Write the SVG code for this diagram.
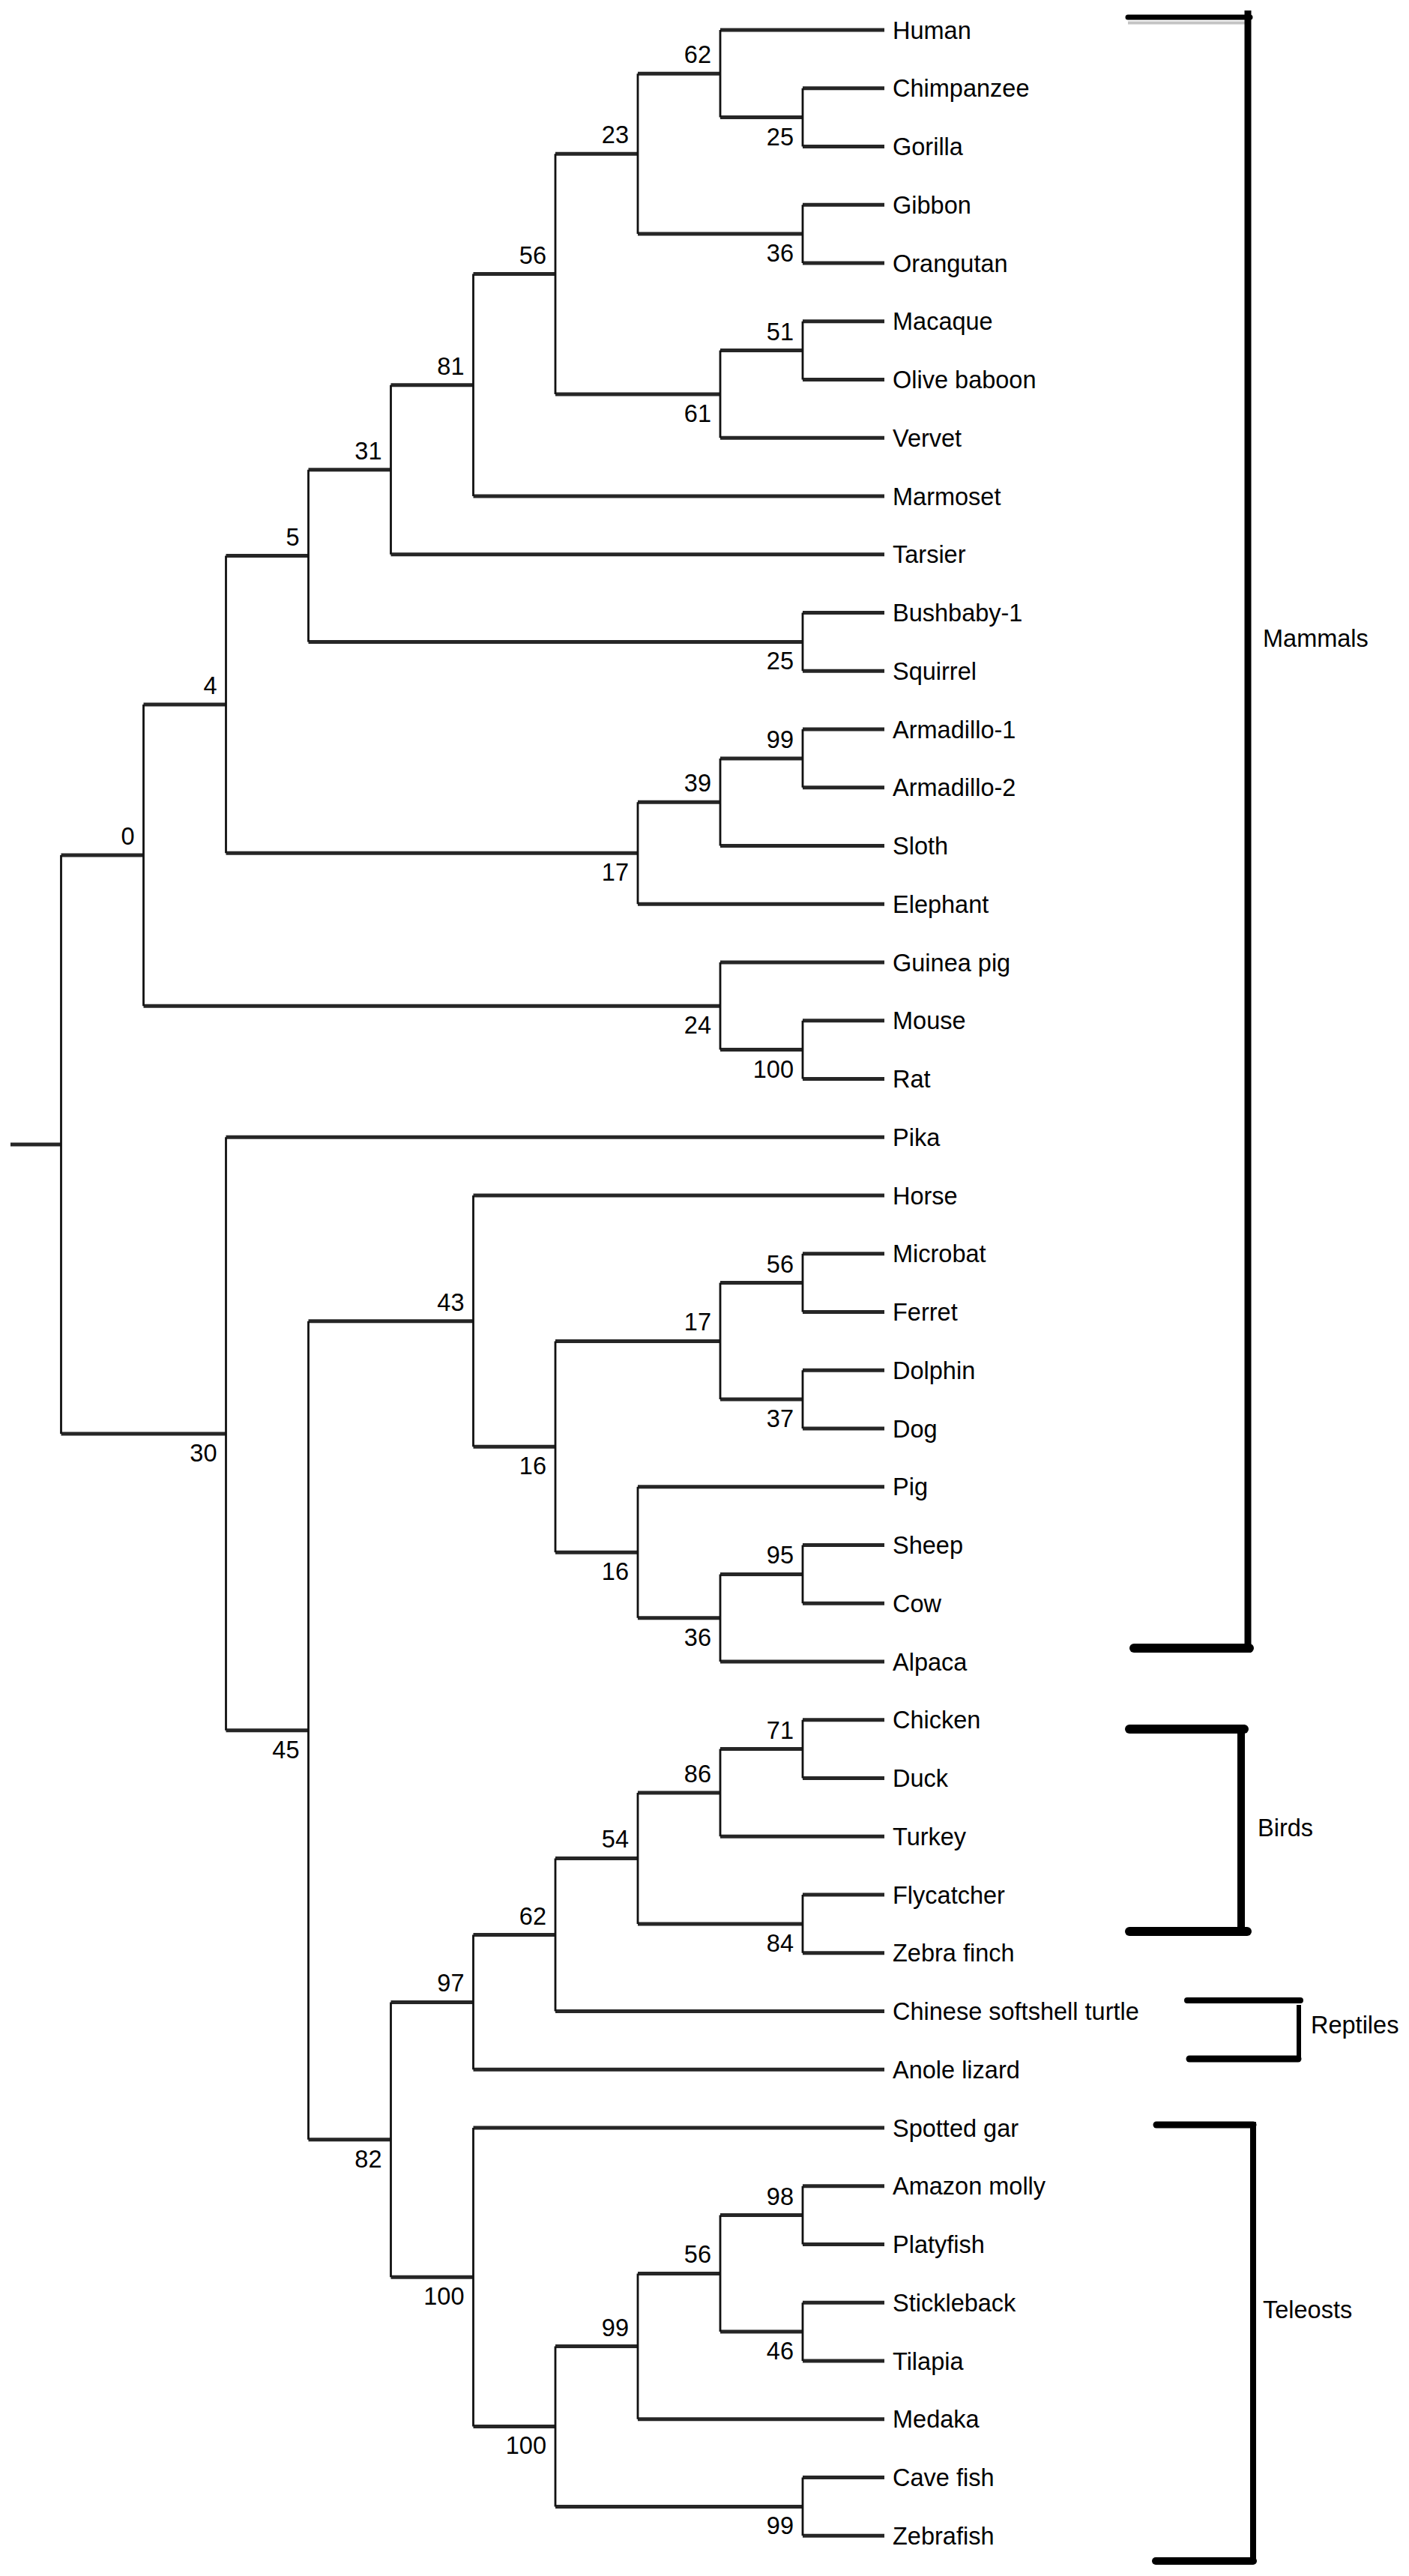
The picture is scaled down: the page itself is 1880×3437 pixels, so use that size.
<svg xmlns="http://www.w3.org/2000/svg" width="1880" height="3437" viewBox="0 0 1880 3437">
<style>
text{font-family:"Liberation Sans",Arial,sans-serif;font-size:32.5px;fill:#000}
.bs{text-anchor:end}
.h{fill:none;stroke:#262626;stroke-width:5}
.v{fill:none;stroke:#111;stroke-width:2.8}
.br{fill:none;stroke:#000;stroke-linecap:round}
</style>
<rect width="1880" height="3437" fill="#fff"/>
<g id="connectors">
<path class="h" d="M14,1527H81.5 M81.5,1141.1H191.5 M191.5,939.9H301.5 M301.5,741.6H411.5 M411.5,626.8H521.5 M521.5,513.8H631.5 M631.5,365.6H741 M741,205.2H851 M851,98.3H961 M961,40H1180 M961,156.6H1071 M1071,117.75H1180 M1071,195.5H1180 M851,312.1H1071 M1071,273.25H1180 M1071,351H1180 M741,526H961 M961,467.6H1071 M1071,428.75H1180 M1071,506.5H1180 M961,584.25H1180 M631.5,662H1180 M521.5,739.75H1180 M411.5,856.4H1071 M1071,817.5H1180 M1071,895.25H1180 M301.5,1138.2H851 M851,1070.2H961 M961,1011.9H1071 M1071,973H1180 M1071,1050.75H1180 M961,1128.5H1180 M851,1206.25H1180 M191.5,1342.3H961 M961,1284H1180 M961,1400.6H1071 M1071,1361.75H1180 M1071,1439.5H1180 M81.5,1913H301.5 M301.5,1517.25H1180 M301.5,2308.8H411.5 M411.5,1762.7H631.5 M631.5,1595H1180 M631.5,1930.3H741 M741,1789.4H961 M961,1711.6H1071 M1071,1672.75H1180 M1071,1750.5H1180 M961,1867.1H1071 M1071,1828.25H1180 M1071,1906H1180 M741,2071.2H851 M851,1983.75H1180 M851,2158.7H961 M961,2100.4H1071 M1071,2061.5H1180 M1071,2139.25H1180 M961,2217H1180 M411.5,2854.8H521.5 M521.5,2671.4H631.5 M631.5,2581.5H741 M741,2479.4H851 M851,2391.9H961 M961,2333.6H1071 M1071,2294.75H1180 M1071,2372.5H1180 M961,2450.25H1180 M851,2566.9H1071 M1071,2528H1180 M1071,2605.75H1180 M741,2683.5H1180 M631.5,2761.25H1180 M521.5,3038.3H631.5 M631.5,2839H1180 M631.5,3237.5H741 M741,3130.6H851 M851,3033.4H961 M961,2955.6H1071 M1071,2916.75H1180 M1071,2994.5H1180 M961,3111.1H1071 M1071,3072.25H1180 M1071,3150H1180 M851,3227.75H1180 M741,3344.4H1071 M1071,3305.5H1180 M1071,3383.25H1180"/>
<path class="v" d="M81.5,1141.1V1913 M191.5,939.9V1342.3 M301.5,741.6V1138.2 M411.5,626.8V856.4 M521.5,513.8V739.75 M631.5,365.6V662 M741,205.2V526 M851,98.3V312.1 M961,40V156.6 M1071,117.75V195.5 M1071,273.25V351 M961,467.6V584.25 M1071,428.75V506.5 M1071,817.5V895.25 M851,1070.2V1206.25 M961,1011.9V1128.5 M1071,973V1050.75 M961,1284V1400.6 M1071,1361.75V1439.5 M301.5,1517.25V2308.8 M411.5,1762.7V2854.8 M631.5,1595V1930.3 M741,1789.4V2071.2 M961,1711.6V1867.1 M1071,1672.75V1750.5 M1071,1828.25V1906 M851,1983.75V2158.7 M961,2100.4V2217 M1071,2061.5V2139.25 M521.5,2671.4V3038.3 M631.5,2581.5V2761.25 M741,2479.4V2683.5 M851,2391.9V2566.9 M961,2333.6V2450.25 M1071,2294.75V2372.5 M1071,2528V2605.75 M631.5,2839V3237.5 M741,3130.6V3344.4 M851,3033.4V3227.75 M961,2955.6V3111.1 M1071,2916.75V2994.5 M1071,3072.25V3150 M1071,3305.5V3383.25"/>
</g>
<g id="leaves">
<g id="leaf-human"><text x="1191" y="51.5">Human</text></g>
<g id="leaf-chimpanzee"><text x="1191" y="129.25">Chimpanzee</text></g>
<g id="leaf-gorilla"><text x="1191" y="207">Gorilla</text></g>
<g id="leaf-gibbon"><text x="1191" y="284.75">Gibbon</text></g>
<g id="leaf-orangutan"><text x="1191" y="362.5">Orangutan</text></g>
<g id="leaf-macaque"><text x="1191" y="440.25">Macaque</text></g>
<g id="leaf-olive-baboon"><text x="1191" y="518">Olive baboon</text></g>
<g id="leaf-vervet"><text x="1191" y="595.75">Vervet</text></g>
<g id="leaf-marmoset"><text x="1191" y="673.5">Marmoset</text></g>
<g id="leaf-tarsier"><text x="1191" y="751.25">Tarsier</text></g>
<g id="leaf-bushbaby"><text x="1191" y="829">Bushbaby-1</text></g>
<g id="leaf-squirrel"><text x="1191" y="906.75">Squirrel</text></g>
<g id="leaf-armadillo1"><text x="1191" y="984.5">Armadillo-1</text></g>
<g id="leaf-armadillo2"><text x="1191" y="1062.25">Armadillo-2</text></g>
<g id="leaf-sloth"><text x="1191" y="1140">Sloth</text></g>
<g id="leaf-elephant"><text x="1191" y="1217.75">Elephant</text></g>
<g id="leaf-guinea-pig"><text x="1191" y="1295.5">Guinea pig</text></g>
<g id="leaf-mouse"><text x="1191" y="1373.25">Mouse</text></g>
<g id="leaf-rat"><text x="1191" y="1451">Rat</text></g>
<g id="leaf-pika"><text x="1191" y="1528.75">Pika</text></g>
<g id="leaf-horse"><text x="1191" y="1606.5">Horse</text></g>
<g id="leaf-microbat"><text x="1191" y="1684.25">Microbat</text></g>
<g id="leaf-ferret"><text x="1191" y="1762">Ferret</text></g>
<g id="leaf-dolphin"><text x="1191" y="1839.75">Dolphin</text></g>
<g id="leaf-dog"><text x="1191" y="1917.5">Dog</text></g>
<g id="leaf-pig"><text x="1191" y="1995.25">Pig</text></g>
<g id="leaf-sheep"><text x="1191" y="2073">Sheep</text></g>
<g id="leaf-cow"><text x="1191" y="2150.75">Cow</text></g>
<g id="leaf-alpaca"><text x="1191" y="2228.5">Alpaca</text></g>
<g id="leaf-chicken"><text x="1191" y="2306.25">Chicken</text></g>
<g id="leaf-duck"><text x="1191" y="2384">Duck</text></g>
<g id="leaf-turkey"><text x="1191" y="2461.75">Turkey</text></g>
<g id="leaf-flycatcher"><text x="1191" y="2539.5">Flycatcher</text></g>
<g id="leaf-zebra-finch"><text x="1191" y="2617.25">Zebra finch</text></g>
<g id="leaf-turtle"><text x="1191" y="2695">Chinese softshell turtle</text></g>
<g id="leaf-anole"><text x="1191" y="2772.75">Anole lizard</text></g>
<g id="leaf-spotted-gar"><text x="1191" y="2850.5">Spotted gar</text></g>
<g id="leaf-amazon-molly"><text x="1191" y="2928.25">Amazon molly</text></g>
<g id="leaf-platyfish"><text x="1191" y="3006">Platyfish</text></g>
<g id="leaf-stickleback"><text x="1191" y="3083.75">Stickleback</text></g>
<g id="leaf-tilapia"><text x="1191" y="3161.5">Tilapia</text></g>
<g id="leaf-medaka"><text x="1191" y="3239.25">Medaka</text></g>
<g id="leaf-cave-fish"><text x="1191" y="3317">Cave fish</text></g>
<g id="leaf-zebrafish"><text x="1191" y="3394.75">Zebrafish</text></g>
</g>
<g id="bootstrap">
<g id="n62a"><text class="bs" x="949" y="84">62</text></g>
<g id="n25a"><text class="bs" x="1059" y="194">25</text></g>
<g id="n23"><text class="bs" x="839" y="191">23</text></g>
<g id="n36a"><text class="bs" x="1059" y="349">36</text></g>
<g id="n56a"><text class="bs" x="729" y="352">56</text></g>
<g id="n51"><text class="bs" x="1059" y="454">51</text></g>
<g id="n61"><text class="bs" x="949" y="563">61</text></g>
<g id="n81"><text class="bs" x="619.5" y="500">81</text></g>
<g id="n31"><text class="bs" x="509.5" y="613">31</text></g>
<g id="n5"><text class="bs" x="399.5" y="728">5</text></g>
<g id="n25b"><text class="bs" x="1059" y="893">25</text></g>
<g id="n4"><text class="bs" x="289.5" y="926">4</text></g>
<g id="n99a"><text class="bs" x="1059" y="998">99</text></g>
<g id="n39"><text class="bs" x="949" y="1056">39</text></g>
<g id="n17a"><text class="bs" x="839" y="1175">17</text></g>
<g id="n0"><text class="bs" x="179.5" y="1127">0</text></g>
<g id="n24"><text class="bs" x="949" y="1379">24</text></g>
<g id="n100a"><text class="bs" x="1059" y="1438">100</text></g>
<g id="n30"><text class="bs" x="289.5" y="1950">30</text></g>
<g id="n43"><text class="bs" x="619.5" y="1749">43</text></g>
<g id="n56b"><text class="bs" x="1059" y="1698">56</text></g>
<g id="n17b"><text class="bs" x="949" y="1775">17</text></g>
<g id="n37"><text class="bs" x="1059" y="1904">37</text></g>
<g id="n16a"><text class="bs" x="729" y="1967">16</text></g>
<g id="n95"><text class="bs" x="1059" y="2086">95</text></g>
<g id="n16b"><text class="bs" x="839" y="2108">16</text></g>
<g id="n36b"><text class="bs" x="949" y="2196">36</text></g>
<g id="n45"><text class="bs" x="399.5" y="2346">45</text></g>
<g id="n71"><text class="bs" x="1059" y="2320">71</text></g>
<g id="n86"><text class="bs" x="949" y="2378">86</text></g>
<g id="n54"><text class="bs" x="839" y="2465">54</text></g>
<g id="n84"><text class="bs" x="1059" y="2604">84</text></g>
<g id="n62b"><text class="bs" x="729" y="2568">62</text></g>
<g id="n97"><text class="bs" x="619.5" y="2657">97</text></g>
<g id="n82"><text class="bs" x="509.5" y="2892">82</text></g>
<g id="n98"><text class="bs" x="1059" y="2942">98</text></g>
<g id="n56c"><text class="bs" x="949" y="3019">56</text></g>
<g id="n46"><text class="bs" x="1059" y="3148">46</text></g>
<g id="n99b"><text class="bs" x="839" y="3117">99</text></g>
<g id="n100b"><text class="bs" x="619.5" y="3075">100</text></g>
<g id="n100c"><text class="bs" x="729" y="3274">100</text></g>
<g id="n99c"><text class="bs" x="1059" y="3381">99</text></g>
</g>
<g id="clades">
<g id="clade-mammals">
<line x1="1505" y1="30.5" x2="1668" y2="30.5" stroke="#c4c4c4" stroke-width="4"/>
<path class="br" d="M1505,23H1668" stroke-width="7"/>
<path d="M1665,14V2205" stroke="#000" stroke-width="9" fill="none"/>
<path class="br" d="M1513,2199H1667" stroke-width="12"/>
<text x="1685" y="863">Mammals</text>
</g>
<g id="clade-birds">
<path class="br" d="M1507,2307H1660" stroke-width="12"/>
<path d="M1656,2301V2582" stroke="#000" stroke-width="10" fill="none"/>
<path class="br" d="M1507,2577H1664" stroke-width="12"/>
<text x="1678" y="2450">Birds</text>
</g>
<g id="clade-reptiles">
<path class="br" d="M1584,2669H1735" stroke-width="8"/>
<path d="M1733,2675V2749" stroke="#000" stroke-width="6" fill="none"/>
<path class="br" d="M1587,2747H1732" stroke-width="9"/>
<text x="1749" y="2713">Reptiles</text>
</g>
<g id="clade-teleosts">
<path class="br" d="M1543,2835H1672" stroke-width="9"/>
<path d="M1672,2831V3420" stroke="#000" stroke-width="8" fill="none"/>
<path class="br" d="M1542,3417H1672" stroke-width="10"/>
<text x="1685" y="3093">Teleosts</text>
</g>
</g>
</svg>
